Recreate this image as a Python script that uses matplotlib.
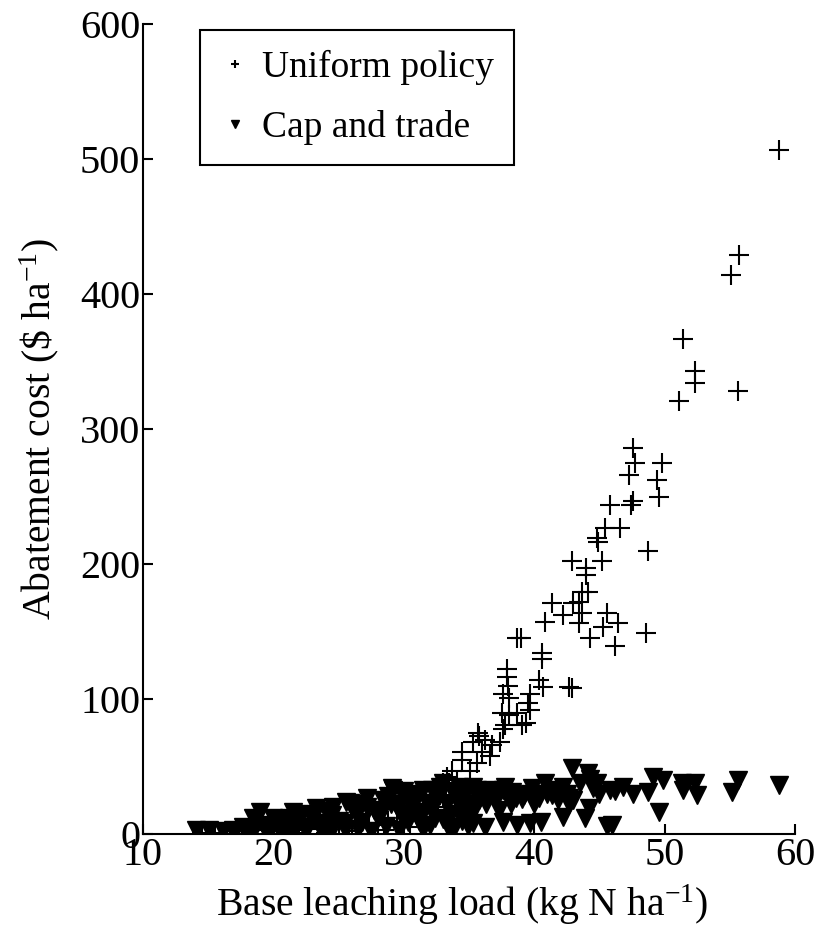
import numpy as np
import matplotlib.pyplot as plt

plt.rcParams['font.family'] = ['Liberation Serif', 'DejaVu Serif']
plt.rcParams['mathtext.fontset'] = 'custom'
plt.rcParams['mathtext.rm'] = 'Liberation Serif'
plt.rcParams['mathtext.it'] = 'Liberation Serif'

#uniform policy (base load, cost)
uni_x = [58.8, 55.7, 55.1, 51.4, 52.3, 52.3, 55.6, 51.1, 47.6, 47.7, 47.3, 49.8,
         49.4, 49.6, 47.6, 45.8, 47.4, 45.4, 46.6, 44.8, 44.9, 48.7, 42.9, 45.2,
         44.0, 44.0, 43.7, 44.1, 41.4, 43.0, 43.4, 42.2, 43.7, 45.6, 40.8, 43.4,
         45.3, 46.4, 48.6, 44.3, 46.2, 38.7, 39.0, 40.6, 40.6, 37.9, 37.9, 40.7,
         40.4, 42.9, 42.7, 37.6, 38.1, 39.7, 39.5, 37.5, 38.7, 39.7, 39.1, 39.4,
         37.6, 35.8, 35.7, 35.3, 36.8, 37.4, 34.5, 36.0, 34.5, 35.6, 33.7, 35.1,
         33.3, 33.0, 33.5, 32.8, 33.2, 34.1, 36.6, 37.8, 38.1, 36.2, 38.0,
         14.5, 15.5, 16.8, 18.0, 19.2, 20.0, 21.0, 22.0, 22.8, 23.5, 24.3, 25.0,
         25.8, 26.5, 27.3, 28.0, 28.8, 29.5, 30.2, 31.0, 31.7, 32.3, 32.6, 33.0,
         30.5, 28.5, 26.0, 24.0, 21.5]
uni_y = [507, 429, 414, 367, 343, 334, 328, 321, 286, 275, 266, 275,
         262, 250, 247, 244, 244, 227, 227, 219, 216, 210, 202, 202,
         197, 192, 179, 179, 171, 171, 172, 162, 164, 164, 157, 156,
         153, 156, 149, 145, 139, 145, 145, 134, 130, 122, 116, 109,
         114, 108, 109, 104, 101, 104, 97, 90, 90, 92, 81, 82,
         78, 73, 75, 68, 66, 68, 61, 61, 55, 53, 47, 47,
         42, 38, 38, 29, 33, 40, 58, 81, 88, 70, 110,
         1, 1, 2, 2, 3, 2, 4, 3, 5, 4, 6, 5,
         7, 6, 8, 7, 10, 9, 12, 14, 16, 20, 24, 27,
         5, 3, 2, 1, 1]

#cap and trade
cap_x = [58.8, 55.6, 55.2, 52.3, 51.3, 51.4, 52.5, 49.9, 49.1, 49.6, 48.7, 47.6,
         46.8, 46.2, 45.8, 46.0, 45.6, 44.8, 44.1, 44.3, 43.5, 42.9, 42.2, 42.7,
         42.7, 42.2, 43.9, 44.2, 40.8, 41.2, 39.7, 39.2, 37.6, 37.1, 35.6, 35.8,
         38.7, 37.6, 39.7, 40.5, 38.6, 40.1, 35.3, 34.9, 36.2, 33.9, 34.2, 33.0,
         32.2, 31.0, 30.9, 29.2, 29.1, 28.4, 27.2, 27.2, 25.9, 25.6, 24.6, 23.3,
         21.5, 20.5, 19.0, 18.4, 17.7, 15.1, 14.1, 16.1, 16.9, 18.5, 19.8, 21.0,
         22.0, 22.5, 23.0, 24.0, 24.5, 25.0, 25.5, 26.3, 26.8, 27.7, 28.0, 28.6,
         29.5, 29.8, 30.3, 30.6, 31.4, 31.8, 32.4, 32.7, 33.3, 33.6, 34.0, 34.4,
         34.8, 35.0, 22.8, 23.8, 21.2, 20.0, 26.0, 28.8, 30.0, 31.5, 32.0, 33.4,
         34.5, 36.5, 36.9, 37.9, 38.3, 39.1, 40.4, 41.4, 41.8, 36.0,
         17.0, 18.0, 19.5, 20.5, 21.5, 22.5, 23.5, 24.5, 25.5, 26.5, 27.5, 28.3,
         29.0, 29.6, 30.4, 31.2, 32.2, 33.0, 33.8, 34.8, 35.5, 36.3, 37.3, 38.2,
         22.0, 24.0, 26.8, 30.0, 31.5, 32.8, 34.5, 35.3, 36.8, 37.8, 39.8, 41.0,
         42.5, 43.0, 45.0, 44.5, 40.0, 20.8, 19.2]
cap_y = [36, 40, 31, 38, 38, 33, 29, 40, 42, 16, 31, 30,
         35, 32, 33, 7, 6, 38, 45, 41, 38, 49, 35, 27,
         22, 13, 12, 19, 38, 33, 30, 29, 33, 25, 33, 25,
         7, 9, 8, 9, 27, 29, 8, 6, 5, 31, 35, 38,
         33, 30, 25, 33, 34, 25, 27, 20, 23, 24, 20, 19,
         16, 8, 16, 12, 5, 3, 3, 2, 3, 3, 4, 6,
         10, 5, 12, 8, 14, 10, 4, 15, 9, 18, 12, 6,
         20, 14, 9, 20, 16, 23, 12, 28, 22, 15, 26, 19,
         30, 14, 15, 3, 12, 12, 19, 28, 27, 4, 7, 5,
         10, 30, 27, 29, 31, 26, 27, 29, 25, 28,
         1, 2, 1, 2, 3, 2, 6, 3, 8, 4, 2, 16,
         22, 3, 15, 10, 19, 11, 3, 22, 19, 22, 18, 22,
         14, 17, 22, 32, 33, 35, 33, 35, 33, 35, 34, 30,
         30, 25, 30, 34, 22, 10, 7]


fig = plt.figure(figsize=(8.28, 9.34), dpi=100)
ax = fig.add_axes([0.1727, 0.107, 0.7874, 0.8673])

ax.plot(uni_x, uni_y, '+', color='black', markersize=14, mew=1.5,
        label='Uniform policy')
ax.plot(cap_x, cap_y, 'v', color='black', markersize=13,
        label='Cap and trade')

ax.set_xlim(10, 60)
ax.set_ylim(0, 600)
ax.set_xticks([10, 20, 30, 40, 50, 60])
ax.set_yticks([0, 100, 200, 300, 400, 500, 600])

for s in ['top', 'right']:
    ax.spines[s].set_visible(False)
for s in ['left', 'bottom']:
    ax.spines[s].set_linewidth(1.5)
ax.tick_params(direction='in', length=7, width=1.5, labelsize=29, pad=2)

ax.set_xlabel(r'Base leaching load (kg N ha$^{\mathregular{-1}}$)', fontsize=28.5)
ax.set_ylabel(r'Abatement cost (\$ ha$^{\mathregular{-1}}$)', fontsize=28.5)
ax.yaxis.set_label_coords(-0.125, 0.5)
ax.xaxis.set_label_coords(0.49, -0.06)

leg = ax.legend(loc='upper left', bbox_to_anchor=(0.087, 0.993), fontsize=27,
                markerscale=0.45, fancybox=False, edgecolor='black',
                framealpha=1, handlelength=0.8, handletextpad=0.3,
                borderpad=0.55, labelspacing=0.65, borderaxespad=0)
leg.get_frame().set_linewidth(1.5)

fig.savefig('out.png', dpi=100)
